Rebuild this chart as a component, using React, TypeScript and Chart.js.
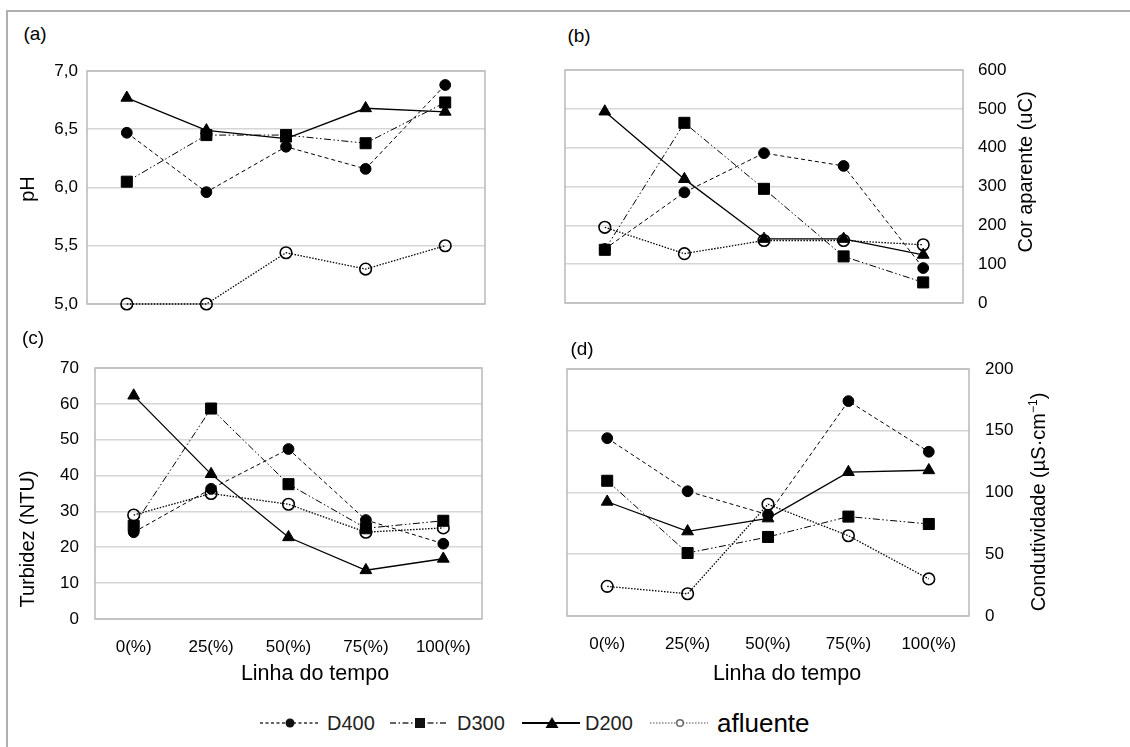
import React, { useEffect, useRef } from 'react';
import { Chart, registerables } from 'chart.js';
Chart.register(...registerables);

const categories = ['0(%)', '25(%)', '50(%)', '75(%)', '100(%)'];
const seriesNames = ['D400', 'D300', 'D200', 'afluente'];

const phD400 = [6.47, 5.96, 6.35, 6.16, 6.88];
const phD300 = [6.05, 6.45, 6.45, 6.38, 6.73];
const phD200 = [6.77, 6.49, 6.42, 6.68, 6.65];
const phAfl = [5.0, 5.0, 5.44, 5.3, 5.5];

const corD400 = [139, 285, 386, 353, 90];
const corD300 = [137, 464, 294, 120, 53];
const corD200 = [493, 319, 165, 165, 124];
const corAfl = [195, 127, 161, 161, 150];

const turbD400 = [24.2, 36.3, 47.4, 27.6, 21];
const turbD300 = [26, 58.7, 37.6, 25.3, 27.4];
const turbD200 = [62.3, 40.4, 22.8, 13.6, 16.8];
const turbAfl = [29, 35, 32, 24.2, 25.4];

const condD400 = [144, 101, 82, 174, 133];
const condD300 = [109.5, 51, 64, 80.5, 74.5];
const condD200 = [92.5, 68.5, 79, 116.5, 118];
const condAfl = [24, 18, 90.5, 65, 30];

const FONT = '"Liberation Sans", Arial, Helvetica, sans-serif';

const styles = [
  { pointStyle: 'circle', radius: 5.4, bg: '#000', dash: [4, 3], width: 1 },
  { pointStyle: 'rect', radius: 7.8, bg: '#000', dash: [7, 2.5, 1.5, 2.5, 1.5, 2.5], width: 1 },
  { pointStyle: 'triangle', radius: 6.8, bg: '#000', dash: [], width: 1.3 },
  { pointStyle: 'circle', radius: 5.8, bg: 'rgba(255,255,255,0)', dash: [1.5, 1.5], width: 1.3 },
];

function makeDatasets(series: number[][]) {
  return series.map((data, i) => {
    const s = styles[i];
    return {
      label: seriesNames[i],
      data,
      borderColor: '#000',
      borderWidth: s.width,
      borderDash: s.dash,
      tension: 0,
      fill: false,
      clip: false as any,
      pointStyle: s.pointStyle,
      pointRadius: s.radius,
      pointHoverRadius: s.radius,
      pointBackgroundColor: s.bg,
      pointBorderColor: '#000',
      pointBorderWidth: i === 3 ? 1.6 : 1,
    };
  });
}

const framePlugin = {
  id: 'frame',
  beforeDatasetsDraw(chart: any) {
    const { ctx, chartArea } = chart;
    ctx.save();
    ctx.strokeStyle = '#bdbdbd';
    ctx.lineWidth = 1.6;
    ctx.strokeRect(chartArea.left, chartArea.top, chartArea.right - chartArea.left, chartArea.bottom - chartArea.top);
    ctx.restore();
  },
};

type Panel = {
  left: number; top: number; w: number; h: number;
  series: number[][];
  min: number; max: number; step: number;
  side: 'left' | 'right';
  yW: number; xH: number; tickPad: number;
  pad: { left: number; right: number; top: number; bottom: number };
  showX: boolean;
  fmt: (v: number) => string;
};

const panels: Panel[] = [
  {
    left: 10, top: 50, w: 530, h: 270, series: [phD400, phD300, phD200, phAfl],
    min: 5, max: 7, step: 0.5, side: 'left', yW: 77, xH: 16, tickPad: 9,
    pad: { left: 0, right: 55, top: 21, bottom: 0 }, showX: false,
    fmt: (v) => v.toFixed(1).replace('.', ','),
  },
  {
    left: 545, top: 50, w: 500, h: 270, series: [corD400, corD300, corD200, corAfl],
    min: 0, max: 600, step: 100, side: 'right', yW: 82, xH: 17, tickPad: 15,
    pad: { left: 20, right: 0, top: 20, bottom: 0 }, showX: false,
    fmt: (v) => String(v),
  },
  {
    left: 10, top: 345, w: 530, h: 346, series: [turbD400, turbD300, turbD200, turbAfl],
    min: 0, max: 70, step: 10, side: 'left', yW: 85, xH: 72, tickPad: 16,
    pad: { left: 0, right: 58, top: 23, bottom: 0 }, showX: true,
    fmt: (v) => String(v),
  },
  {
    left: 545, top: 345, w: 510, h: 346, series: [condD400, condD300, condD200, condAfl],
    min: 0, max: 200, step: 50, side: 'right', yW: 86, xH: 75, tickPad: 16,
    pad: { left: 22, right: 0, top: 24, bottom: 0 }, showX: true,
    fmt: (v) => String(v),
  },
];

function PanelChart({ p }: { p: Panel }) {
  const ref = useRef<HTMLCanvasElement>(null);
  useEffect(() => {
    if (!ref.current) return;
    const chart = new Chart(ref.current, {
      type: 'line',
      data: { labels: categories, datasets: makeDatasets(p.series) as any },
      options: {
        animation: false,
        responsive: false,
        devicePixelRatio: 1,
        layout: { padding: p.pad },
        plugins: { legend: { display: false }, tooltip: { enabled: false }, title: { display: false } },
        scales: {
          x: {
            type: 'category',
            offset: true,
            grid: { display: false },
            border: { display: false },
            ticks: {
              display: p.showX,
              font: { family: FONT, size: 17 },
              color: '#000',
              padding: 10,
              maxRotation: 0,
              autoSkip: false,
            },
            afterFit: (s: any) => { s.height = p.xH; },
          },
          y: {
            position: p.side,
            min: p.min,
            max: p.max,
            grid: { color: '#d6d6d6', lineWidth: 1.6, drawTicks: true, tickLength: p.tickPad, tickColor: 'rgba(0,0,0,0)' },
            border: { display: false },
            ticks: {
              stepSize: p.step,
              font: { family: FONT, size: 17 },
              color: '#000',
              padding: 0,
              callback: (v: any) => p.fmt(Number(v)),
            },
            afterFit: (s: any) => { s.width = p.yW; },
          },
        },
      } as any,
      plugins: [framePlugin],
    });
    return () => chart.destroy();
  }, [p]);
  return (
    <canvas
      ref={ref}
      width={p.w}
      height={p.h}
      style={{ position: 'absolute', left: p.left, top: p.top, width: p.w, height: p.h }}
    />
  );
}

const textBase: React.CSSProperties = {
  position: 'absolute',
  fontFamily: FONT,
  color: '#000',
  whiteSpace: 'nowrap',
  lineHeight: 1,
};

function Label({ x, y, size, rotate, children }: { x: number; y: number; size: number; rotate?: boolean; children: React.ReactNode }) {
  return (
    <div
      style={{
        ...textBase,
        left: x,
        top: y,
        fontSize: size,
        transform: `translate(-50%, -50%)${rotate ? ' rotate(-90deg)' : ''}`,
      }}
    >
      {children}
    </div>
  );
}

function LegendItem({ x, name, idx, textX, size }: { x: number; name: string; idx: number; textX: number; size: number }) {
  const cy = 8;
  const stroke = idx === 3 ? '#8a8a8a' : idx === 2 ? '#000' : '#333';
  const dash = idx === 0 ? '3 2.5' : idx === 1 ? '6 2.5 1.5 2.5' : idx === 3 ? '1.5 1.5' : undefined;
  let marker: React.ReactNode = null;
  if (idx === 0) marker = <circle cx={30} cy={cy} r={4.5} fill="#111" />;
  if (idx === 1) marker = <rect x={25} y={cy - 5} width={10} height={10} fill="#111" />;
  if (idx === 2) marker = <polygon points={`${30 - 6.5},${cy + 5} ${30 + 6.5},${cy + 5} 30,${cy - 6}`} fill="#000" />;
  if (idx === 3) marker = <circle cx={30} cy={cy} r={3.3} fill="#fff" stroke="#666" strokeWidth={1.5} />;
  return (
    <>
      <svg width={60} height={16} style={{ position: 'absolute', left: x, top: 723 - cy }}>
        <line x1={0} y1={cy} x2={58} y2={cy} stroke={stroke} strokeWidth={idx === 2 ? 2 : 1.5} strokeDasharray={dash} />
        {marker}
      </svg>
      <div style={{ ...textBase, left: textX, top: 723, fontSize: size, transform: 'translateY(-50%)', color: idx === 3 ? '#000' : '#222' }}>
        {name}
      </div>
    </>
  );
}

export default function App() {
  return (
    <div style={{ position: 'absolute', left: 0, top: 0, width: 1130, height: 747, overflow: 'hidden', background: '#fff' }}>
      <div style={{ position: 'absolute', left: 6, top: 10, width: 1300, height: 900, borderLeft: '2px solid #b0b0b0', borderTop: '2px solid #b0b0b0' }} />
      {panels.map((p, i) => <PanelChart key={i} p={p} />)}
      <Label x={35} y={33} size={19}>(a)</Label>
      <Label x={579} y={35} size={19}>(b)</Label>
      <Label x={33} y={337} size={19}>(c)</Label>
      <Label x={582} y={348} size={19}>(d)</Label>
      <Label x={27} y={189} size={20} rotate>pH</Label>
      <Label x={1025} y={172} size={20} rotate>Cor aparente (uC)</Label>
      <Label x={27} y={539} size={20} rotate>Turbidez (NTU)</Label>
      <Label x={1038} y={502} size={20} rotate>Condutividade (µS·cm<sup style={{ fontSize: 12, verticalAlign: 'super', lineHeight: 0 }}>−1</sup>)</Label>
      <Label x={315} y={674} size={21.5}>Linha do tempo</Label>
      <Label x={787} y={674} size={21.5}>Linha do tempo</Label>
      <LegendItem x={260} name="D400" idx={0} textX={327} size={20} />
      <LegendItem x={390} name="D300" idx={1} textX={457} size={20} />
      <LegendItem x={522} name="D200" idx={2} textX={585} size={20} />
      <LegendItem x={650} name="afluente" idx={3} textX={717} size={26} />
    </div>
  );
}
